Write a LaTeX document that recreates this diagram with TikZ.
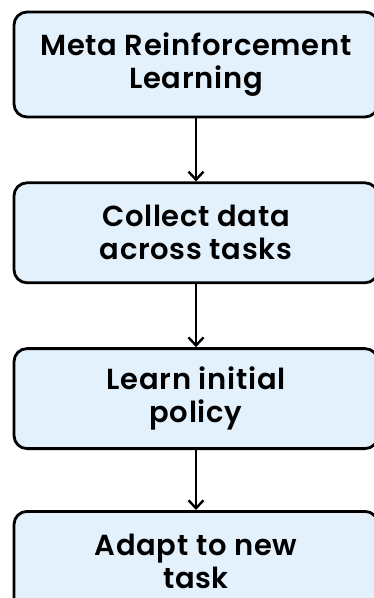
\documentclass[tikz,border=0pt]{standalone}
\usepackage{fontspec}
\setmainfont{Poppins}[BoldFont={Poppins SemiBold}, LetterSpace=2.5]
\usetikzlibrary{positioning,arrows.meta}

\definecolor{boxfill}{HTML}{E3F1FC}

\tikzset{
    stage/.style={draw=black, fill=boxfill, line width=2.8pt, rounded corners=13pt,
        minimum width=364pt, minimum height=100pt, align=center,
        font=\fontsize{29}{33}\selectfont\bfseries},
    flow/.style={line width=2.6pt, -{Straight Barb[length=8pt,width=15pt,line width=2.4pt]}}
}

\begin{document}
\begin{tikzpicture}[x=1pt,y=1pt]
                \useasboundingbox (0,0) rectangle (374,-598);
                % the four stages, top to bottom
                \node[stage, minimum height=105pt] (meta) at (196,-64.5)
                    {Meta Reinforcement\\Learning};
                \node[stage, below=63pt of meta] (collect)
                    {Collect data\\across tasks};
                \node[stage, below=63pt of collect] (learn)
                    {Learn initial\\policy};
                \node[stage, below=60pt of learn] (adapt)
                    {Adapt to new\\task};
                \draw[flow] (meta) -- (collect);
                \draw[flow] (collect) -- (learn);
                \draw[flow] (learn) -- (adapt);
            \end{tikzpicture}
\end{document}
